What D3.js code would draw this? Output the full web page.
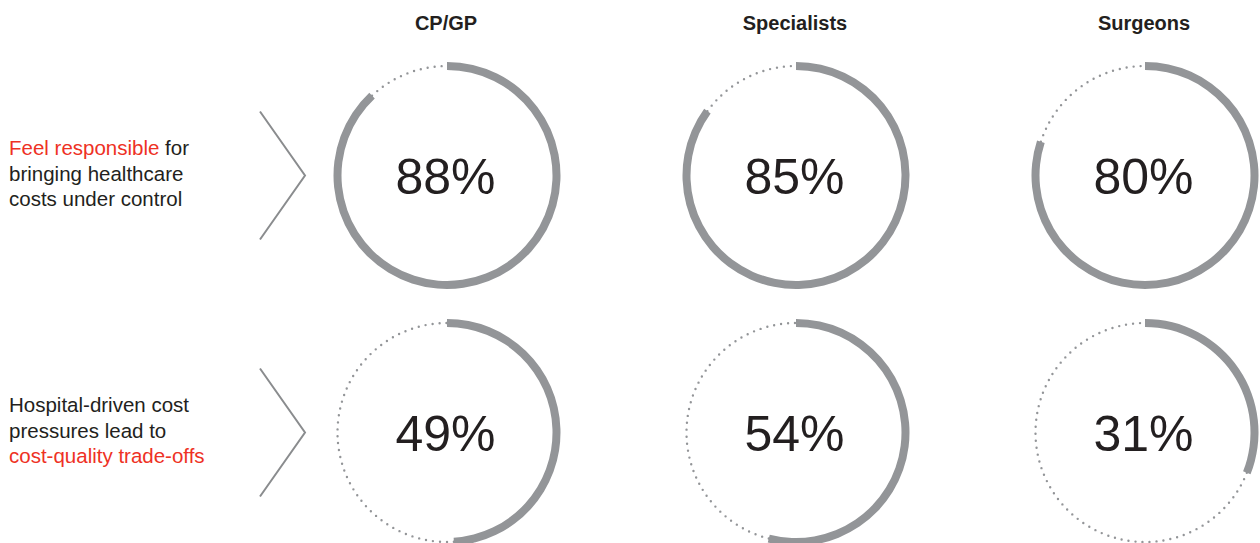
<!DOCTYPE html>
<html>
<head>
<meta charset="utf-8">
<script src="https://cdn.jsdelivr.net/npm/d3@7/dist/d3.min.js"></script>
<style>
  html, body { margin: 0; padding: 0; background: #fff; }
  svg { display: block; font-family: "Liberation Sans", Arial, sans-serif; }
</style>
</head>
<body>
<div id="chart"></div>
<script>
// 数据
const groups = ['CP/GP', 'Specialists', 'Surgeons'];
const statements = ['responsible', 'tradeoffs'];
const responsibleValues = [88, 85, 80];
const tradeoffValues = [49, 54, 31];

// 左侧说明文字(每行若干片段,red 标记高亮)
const labelLines = [
    [
        [{ text: 'Feel responsible', red: true }, { text: ' for', red: false }],
        [{ text: 'bringing healthcare', red: false }],
        [{ text: 'costs under control', red: false }]
    ],
    [
        [{ text: 'Hospital-driven cost', red: false }],
        [{ text: 'pressures lead to', red: false }],
        [{ text: 'cost-quality trade-offs', red: true }]
    ]
];

const width = 1260;
const height = 543;
const gray = '#939598';
const red = '#ee3124';
const dark = '#231f20';

const svg = d3.select('#chart')
    .append('svg')
    .attr('width', width)
    .attr('height', height)
    .attr('viewBox', `0 0 ${width} ${height}`);

// 列和行的位置
const x = d3.scalePoint().domain(groups).range([447, 1145]);
const y = d3.scalePoint().domain(statements).range([175.5, 432.5]);
const angle = d3.scaleLinear().domain([0, 100]).range([0, 2 * Math.PI]);

const rOuter = 113.5;
const rInner = 105.5;
const rMid = (rOuter + rInner) / 2;

const arc = d3.arc()
    .innerRadius(rInner)
    .outerRadius(rOuter)
    .startAngle(0);

// 列标题
svg.selectAll('text.header')
    .data(groups)
    .enter()
    .append('text')
    .attr('class', 'header')
    .attr('x', d => x(d) - 1)
    .attr('y', 30)
    .attr('text-anchor', 'middle')
    .style('font-size', '20px')
    .style('font-weight', 'bold')
    .style('fill', dark)
    .text(d => d);

// 环形图
const rows = [
    { key: 'responsible', values: responsibleValues },
    { key: 'tradeoffs', values: tradeoffValues }
];

rows.forEach(row => {
    row.values.forEach((v, i) => {
        const cx = x(groups[i]);
        const cy = y(row.key);
        const g = svg.append('g').attr('transform', `translate(${cx},${cy})`);

        // 剩余部分用虚线
        const p = d3.path();
        const a0 = angle(v) - Math.PI / 2;
        const a1 = 3 * Math.PI / 2;
        p.moveTo(rMid * Math.cos(a0), rMid * Math.sin(a0));
        p.arc(0, 0, rMid, a0, a1);
        g.append('path')
            .attr('d', p.toString())
            .style('fill', 'none')
            .style('stroke', gray)
            .style('stroke-width', 2.4)
            .style('stroke-linecap', 'round')
            .style('stroke-dasharray', '0 7');

        // 实心部分
        g.append('path')
            .attr('d', arc.endAngle(angle(v))())
            .style('fill', gray);

        g.append('text')
            .attr('x', -1.5)
            .attr('y', 18.5)
            .attr('text-anchor', 'middle')
            .style('font-size', '50px')
            .style('fill', dark)
            .text(v + '%');
    });
});

// 左侧文字和箭头
const lineY = d3.scaleLinear().domain([0, 1]).range([0, 25.5]);
labelLines.forEach((lines, r) => {
    const cy = y(statements[r]);
    const base = cy - 20.5;
    const t = svg.append('text')
        .style('font-size', '20.5px');
    lines.forEach((parts, li) => {
        parts.forEach((part, pi) => {
            const span = t.append('tspan')
                .style('fill', part.red ? red : dark)
                .text(part.text);
            if (pi === 0) {
                span.attr('x', 9).attr('y', base + lineY(li));
            }
        });
    });

    svg.append('path')
        .attr('d', d3.line()([[260, cy - 64], [305, cy], [260, cy + 64]]))
        .style('fill', 'none')
        .style('stroke', '#8a8c8e')
        .style('stroke-width', 2);
});
</script>
</body>
</html>
